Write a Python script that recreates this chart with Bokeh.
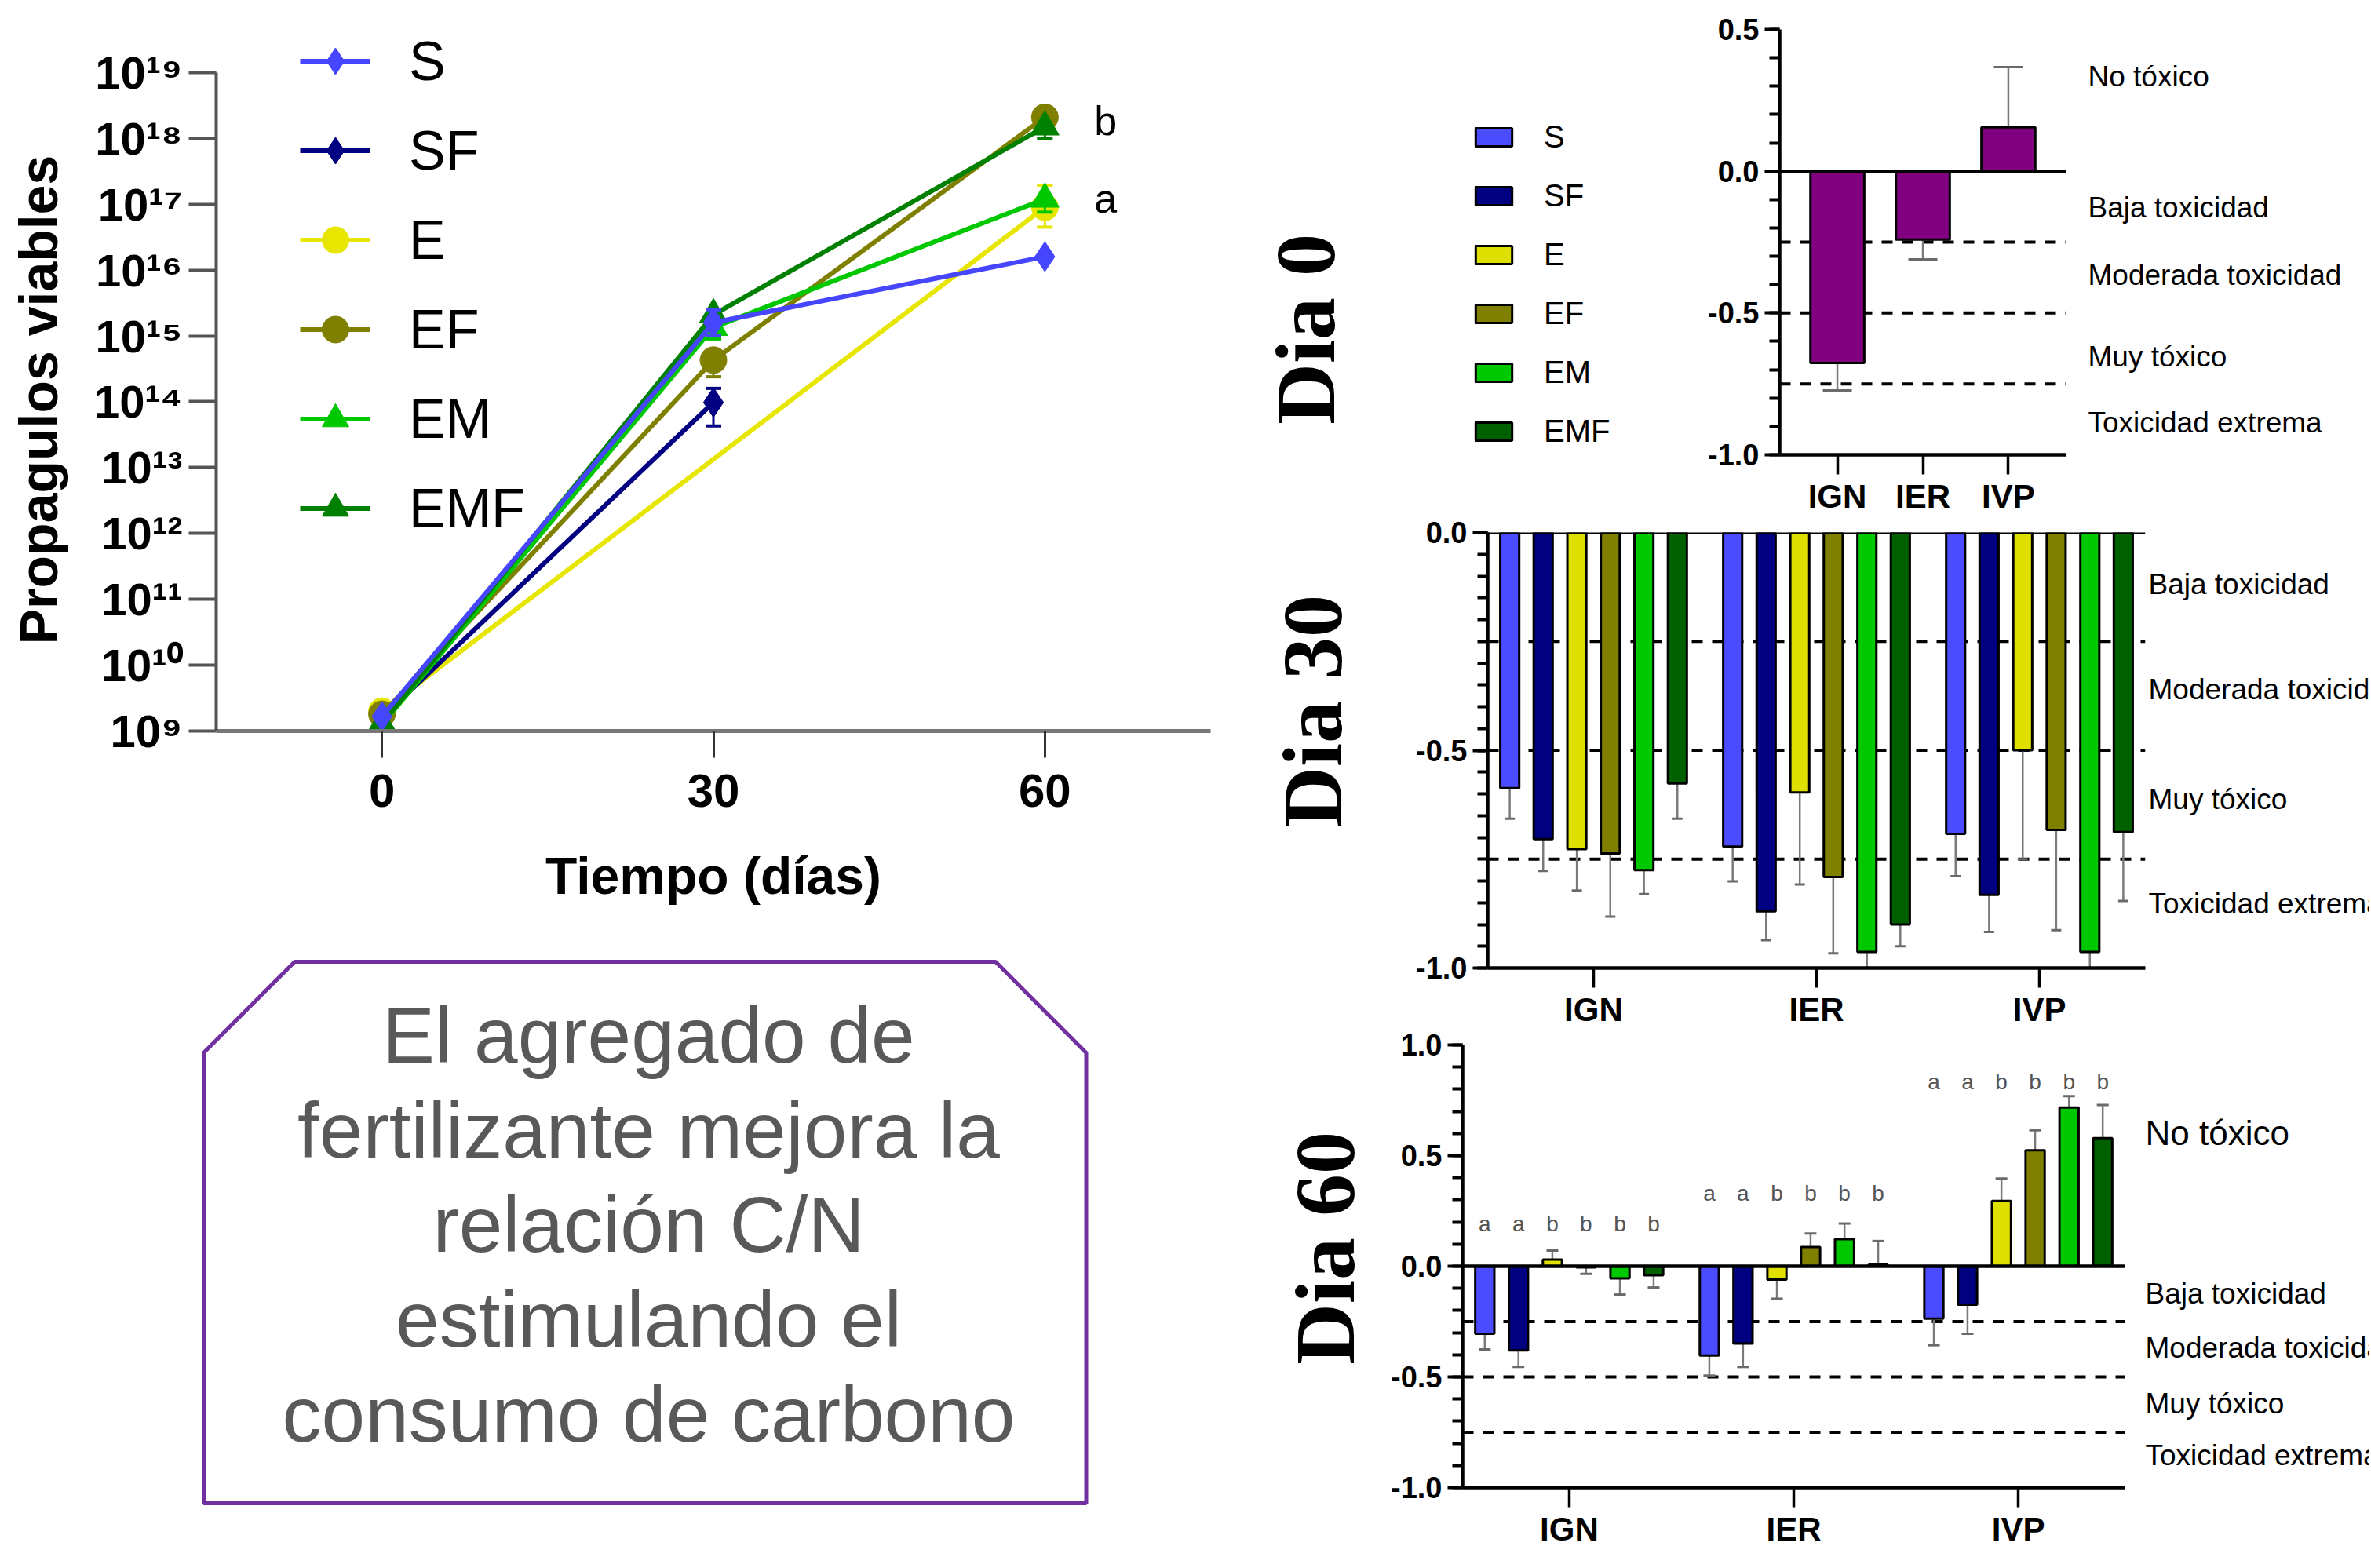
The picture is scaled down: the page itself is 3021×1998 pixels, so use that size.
import math
from bokeh.plotting import figure
from bokeh.models import (ColumnDataSource, Legend, LegendItem, Span, FixedTicker,
                          SingleIntervalTicker, NumeralTickFormatter, FactorRange, Range1d)
from bokeh.transform import dodge
from bokeh.layouts import row, column
from bokeh.embed import file_html
from bokeh.resources import INLINE
from bokeh.core.properties import value

SANS = "Liberation Sans"
SERIF = "Liberation Serif"

# ---------------- data: viable propagules ----------------
series = ["S", "SF", "E", "EF", "EM", "EMF"]
days_S = [0, 30, 60]
prop_S = [1.66e9, 1.6e15, 1.6e16]
lo_S = [1.66e9, 1.0e15, 1.6e16]
hi_S = [1.66e9, 2.5e15, 1.6e16]
days_SF = [0, 30]
prop_SF = [1.6e9, 9.8e13]
lo_SF = [1.6e9, 4.3e13]
hi_SF = [1.6e9, 1.6e14]
days_E = [0, 60]
prop_E = [2.0e9, 9.0e16]
lo_E = [2.0e9, 4.5e16]
hi_E = [2.0e9, 1.95e17]
days_EF = [0, 30, 60]
prop_EF = [1.8e9, 4.3e14, 2.1e18]
lo_EF = [1.8e9, 2.4e14, 2.1e18]
hi_EF = [1.8e9, 4.3e14, 2.1e18]
days_EM = [0, 30, 60]
prop_EM = [1.26e9, 1.35e15, 1.2e17]
lo_EM = [1.26e9, 9.0e14, 7.6e16]
hi_EM = [1.26e9, 1.35e15, 1.2e17]
days_EMF = [0, 30, 60]
prop_EMF = [1.3e9, 2.1e15, 1.5e18]
lo_EMF = [1.3e9, 2.1e15, 1.0e18]
hi_EMF = [1.3e9, 2.1e15, 1.5e18]
sig_text = ["b", "a"]
sig_day = [60, 60]
sig_level = [1.86e18, 1.23e17]
time_ticks = [0, 30, 60]
exp_ticks = list(range(9, 20))

# ---------------- data: toxicity indices ----------------
groups = ["IGN", "IER", "IVP"]
d0_val = [-0.676, -0.241, 0.155]
d0_sd = [0.097, 0.070, 0.212]

d30_S = [-0.587, -0.721, -0.692]
d30_SF = [-0.704, -0.870, -0.832]
d30_E = [-0.727, -0.597, -0.500]
d30_EF = [-0.737, -0.791, -0.683]
d30_EM = [-0.775, -0.963, -0.963]
d30_EMF = [-0.576, -0.900, -0.688]
d30_sd_S = [0.070, 0.080, 0.097]
d30_sd_SF = [0.073, 0.066, 0.085]
d30_sd_E = [0.095, 0.211, 0.250]
d30_sd_EF = [0.145, 0.175, 0.230]
d30_sd_EM = [0.055, 0.050, 0.050]
d30_sd_EMF = [0.081, 0.050, 0.158]

d60_S = [-0.305, -0.403, -0.237]
d60_SF = [-0.380, -0.349, -0.174]
d60_E = [0.030, -0.060, 0.295]
d60_EF = [-0.005, 0.087, 0.524]
d60_EM = [-0.055, 0.122, 0.717]
d60_EMF = [-0.041, 0.011, 0.579]
d60_sd_S = [0.071, 0.091, 0.120]
d60_sd_SF = [0.075, 0.106, 0.131]
d60_sd_E = [0.041, 0.087, 0.101]
d60_sd_EF = [0.030, 0.061, 0.090]
d60_sd_EM = [0.073, 0.071, 0.052]
d60_sd_EMF = [0.055, 0.103, 0.150]
d60_letters_IGN = ["a", "a", "b", "b", "b", "b"]
d60_letters_IER = ["a", "a", "b", "b", "b", "b"]
d60_letters_IVP = ["a", "a", "b", "b", "b", "b"]

box_lines = ["El agregado de", "fertilizante mejora la", "relación C/N",
             "estimulando el", "consumo de carbono"]
bands = ["No tóxico", "Baja toxicidad", "Moderada toxicidad", "Muy tóxico", "Toxicidad extrema"]

# ---------------- styles ----------------
line_colors = {"S": "#4646FF", "SF": "#000080", "E": "#E6E600", "EF": "#808000",
               "EM": "#00C800", "EMF": "#008000"}
bar_colors = {"S": "#4B4BFF", "SF": "#000080", "E": "#E0E000", "EF": "#808000",
              "EM": "#00C800", "EMF": "#006000"}
markers = {"S": "diamond", "SF": "diamond", "E": "circle", "EF": "circle",
           "EM": "triangle", "EMF": "triangle"}
msize = {"diamond": 38, "circle": 34, "triangle": 36}

prop = {
    "S": (days_S, prop_S, lo_S, hi_S), "SF": (days_SF, prop_SF, lo_SF, hi_SF),
    "E": (days_E, prop_E, lo_E, hi_E), "EF": (days_EF, prop_EF, lo_EF, hi_EF),
    "EM": (days_EM, prop_EM, lo_EM, hi_EM), "EMF": (days_EMF, prop_EMF, lo_EMF, hi_EMF),
}

COMMON = dict(output_backend="svg", toolbar_location=None, frame_align=False)


def clean(p):
    p.xgrid.visible = False
    p.ygrid.visible = False
    p.outline_line_color = None


def side_fig(w, h):
    p = figure(width=w, height=h, x_range=Range1d(0, w), y_range=Range1d(h, 0),
               x_axis_location=None, y_axis_location=None, min_border=0, **COMMON)
    clean(p)
    return p


# ======================= A: line chart =======================
sA = side_fig(100, 1180)
sA.text(x=[48], y=[509], text=["Propagulos viables"], angle=math.pi / 2, text_align="center",
        text_baseline="middle", text_font=value(SANS), text_font_style="bold",
        text_font_size="68px", text_color="black")

pA = figure(width=1468, height=1180, y_axis_type="log",
            x_range=Range1d(-15, 75), y_range=Range1d(1e9, 10 ** 19.882),
            min_border_left=175, min_border_right=26, min_border_top=18, min_border_bottom=249,
            **COMMON)
clean(pA)

ya = pA.yaxis[0]
ya.ticker = FixedTicker(ticks=[float(10 ** k) for k in exp_ticks])
ya.bounds = (1e9, 1e19)
sup = str.maketrans("0123456789", "⁰¹²³⁴⁵⁶⁷⁸⁹")
ya.major_label_overrides = {float(10 ** k): "10" + str(k).translate(sup) for k in exp_ticks}
ya.axis_line_width = 4
ya.axis_line_color = "#555555"
ya.major_tick_out = 35
ya.major_tick_in = 0
ya.major_tick_line_width = 4
ya.major_tick_line_color = "#555555"
ya.minor_tick_out = 0
ya.minor_tick_in = 0
ya.major_label_text_font = SANS
ya.major_label_text_font_style = "bold"
ya.major_label_text_font_size = "58px"
ya.major_label_text_color = "black"
ya.major_label_standoff = 8

xa = pA.xaxis[0]
xa.ticker = FixedTicker(ticks=time_ticks)
xa.axis_line_width = 5
xa.axis_line_color = "#777777"
xa.major_tick_out = 34
xa.major_tick_in = 0
xa.major_tick_line_width = 3
xa.major_tick_line_color = "#333333"
xa.minor_tick_out = 0
xa.major_label_text_font = SANS
xa.major_label_text_font_style = "bold"
xa.major_label_text_font_size = "60px"
xa.major_label_text_color = "black"
xa.major_label_standoff = 21
xa.axis_label = "Tiempo (días)"
xa.axis_label_text_font = SANS
xa.axis_label_text_font_style = "bold"
xa.axis_label_text_font_size = "66px"
xa.axis_label_text_color = "black"
xa.axis_label_standoff = 48

line_r, mark_r = {}, {}
for s in ["E", "SF", "EF", "EM", "EMF", "S"]:
    d, v, lo, hi = prop[s]
    c = line_colors[s]
    idx = [i for i in range(len(d)) if hi[i] > lo[i]]
    if idx:
        pA.segment(x0=[d[i] for i in idx], y0=[lo[i] for i in idx],
                   x1=[d[i] for i in idx], y1=[hi[i] for i in idx], line_color=c, line_width=3)
    cx = [d[i] for i in range(len(d)) if lo[i] < v[i]] + [d[i] for i in range(len(d)) if hi[i] > v[i]]
    cy = [lo[i] for i in range(len(d)) if lo[i] < v[i]] + [hi[i] for i in range(len(d)) if hi[i] > v[i]]
    if cx:
        pA.scatter(x=cx, y=cy, marker="dash", size=20, line_color=c, line_width=4)
    line_r[s] = pA.line(x=d, y=v, line_color=c, line_width=6)
    mk = markers[s]
    mark_r[s] = pA.scatter(x=d, y=v, marker=mk, size=msize[mk], fill_color=c, line_color=c)

pA.text(x=sig_day, y=sig_level, text=sig_text, x_offset=63, text_align="left",
        text_baseline="middle", text_font=value(SANS), text_font_size="52px", text_color="black")

legA = Legend(items=[LegendItem(label=s, renderers=[line_r[s], mark_r[s]]) for s in series],
              location=(107, 241), glyph_width=90, glyph_height=85, label_height=85,
              spacing=29, padding=10, margin=0, label_standoff=49,
              label_text_font=SANS, label_text_font_size="70px", label_text_color="black",
              border_line_color=None, background_fill_alpha=0)
pA.add_layout(legA)

# ======================= B: text box =======================
box_x = [259, 375, 1268, 1383.5, 1383.5, 259, 259]
box_y = [161, 45, 45, 161, 735, 735, 161]
pB = side_fig(1568, 810)
pB.patch(x=box_x, y=box_y, fill_color=None, line_color="#7030A0", line_width=5)
pB.text(x=[826] * 5, y=[138, 259, 379, 500, 621], text=box_lines, text_align="center",
        text_baseline="middle", text_font=value(SANS), text_font_size="100px",
        text_color="#595959")


# ======================= helpers for the toxicity panels =======================
def style_bar(p, minor):
    clean(p)
    ax = p.yaxis[0]
    ax.ticker = SingleIntervalTicker(interval=0.5, num_minor_ticks=minor)
    ax.formatter = NumeralTickFormatter(format="0.0")
    ax.axis_line_width = 4.5
    ax.axis_line_color = "black"
    ax.major_tick_out = 19
    ax.major_tick_in = 0
    ax.major_tick_line_width = 4
    ax.minor_tick_out = 13
    ax.minor_tick_in = 0
    ax.minor_tick_line_width = 4
    ax.major_label_text_font = SANS
    ax.major_label_text_font_style = "bold"
    ax.major_label_text_font_size = "38px"
    ax.major_label_text_color = "black"
    ax.major_label_standoff = 7
    bx = p.xaxis[0]
    bx.axis_line_width = 4.5
    bx.axis_line_color = "black"
    bx.major_tick_out = 25
    bx.major_tick_in = 0
    bx.major_tick_line_width = 3.5
    bx.major_label_text_font = SANS
    bx.major_label_text_font_style = "bold"
    bx.major_label_text_font_size = "42px"
    bx.major_label_text_color = "black"
    bx.major_label_standoff = 4
    for lv in (-0.25, -0.5, -0.75):
        p.add_layout(Span(location=lv, dimension="width", line_color="black", line_width=4,
                          line_dash="14 12", level="underlay"))


def title_text(p, text, x, y):
    p.text(x=[x], y=[y], text=[text], angle=math.pi / 2, text_align="center",
           text_baseline="middle", text_font=value(SERIF), text_font_style="bold",
           text_font_size="108px", text_color="black")


def band_fig(w, h, yr, top, bottom, xpos, ys, sizes):
    p = figure(width=w, height=h, x_range=Range1d(0, w), y_range=yr,
               x_axis_location=None, y_axis_location=None,
               min_border_left=0, min_border_right=0, min_border_top=top, min_border_bottom=bottom,
               **COMMON)
    clean(p)
    for t, y, fs in zip(bands, ys, sizes):
        if y is None:
            continue
        p.text(x=[xpos], y=[y], text=[t], text_align="left", text_baseline="middle",
               text_font=value(SANS), text_font_size=fs, text_color="black")
    return p


offsets = [-0.376, -0.226, -0.075, 0.075, 0.226, 0.376]


def grouped_bars(p, vals, sds, cap):
    for s, off in zip(series, offsets):
        v = vals[s]
        end = [a + (e if a >= 0 else -e) for a, e in zip(v, sds[s])]
        src = ColumnDataSource(dict(grp=groups, val=v, end=end))
        xx = dodge("grp", off, range=p.x_range)
        p.segment(x0=xx, y0="val", x1=xx, y1="end", source=src, line_color="#7a7a7a", line_width=2.5)
        p.scatter(x=xx, y="end", source=src, marker="dash", size=cap, line_color="#6a6a6a", line_width=3)
    for s, off in zip(series, offsets):
        src = ColumnDataSource(dict(grp=groups, val=vals[s]))
        p.vbar(x=dodge("grp", off, range=p.x_range), top="val", bottom=0, width=0.085, source=src,
               fill_color=bar_colors[s], line_color="black", line_width=3)


# ======================= C: Dia 0 =======================
yC = Range1d(-1.0, 0.5)
pC = figure(width=480, height=658,
            x_range=FactorRange(*groups, range_padding=0.175, range_padding_units="absolute"),
            y_range=yC, min_border_left=110, min_border_right=5, min_border_top=37,
            min_border_bottom=76, **COMMON)
style_bar(pC, 5)
end0 = [a + (e if a >= 0 else -e) for a, e in zip(d0_val, d0_sd)]
pC.segment(x0=groups, y0=d0_val, x1=groups, y1=end0, line_color="#7a7a7a", line_width=2.5)
pC.scatter(x=groups, y=end0, marker="dash", size=37, line_color="#6a6a6a", line_width=3)
pC.vbar(x=groups, top=d0_val, bottom=0, width=0.63, fill_color="#800080",
        line_color="black", line_width=3)
pC.add_layout(Span(location=0, dimension="width", line_color="black", line_width=4.5))

sC = side_fig(589, 658)
# hidden proxy renderers that only provide the legend swatches
proxy = {s: sC.vbar(x=[0.0], top=[0.0], bottom=[0.0], width=1, visible=False,
                    fill_color=bar_colors[s], line_color="black", line_width=3) for s in series}
legC = Legend(items=[LegendItem(label=s, renderers=[proxy[s]]) for s in series],
              location=(306, 86), glyph_width=58, glyph_height=29, label_height=45,
              spacing=30, padding=0, margin=0, label_standoff=35,
              label_text_font=SANS, label_text_font_size="40px", label_text_color="black",
              border_line_color=None, background_fill_alpha=0)
sC.add_layout(legC)
title_text(sC, "Dia 0", 95, 419)
rC = band_fig(382, 658, yC, 37, 76, 23, [0.335, -0.125, -0.362, -0.648, -0.879], ["37px"] * 5)

# ======================= D: Dia 30 =======================
yD = Range1d(-1.0, 0.0)
pD = figure(width=987, height=654,
            x_range=FactorRange(*groups, range_padding=-0.025, range_padding_units="absolute"),
            y_range=yD, min_border_left=147, min_border_right=2, min_border_top=20,
            min_border_bottom=75, **COMMON)
style_bar(pD, 10)
d30 = {"S": d30_S, "SF": d30_SF, "E": d30_E, "EF": d30_EF, "EM": d30_EM, "EMF": d30_EMF}
d30sd = {"S": d30_sd_S, "SF": d30_sd_SF, "E": d30_sd_E, "EF": d30_sd_EF, "EM": d30_sd_EM,
         "EMF": d30_sd_EMF}
grouped_bars(pD, d30, d30sd, 13)
pD.add_layout(Span(location=0, dimension="width", line_color="black", line_width=5))
sD = side_fig(180, 654)
title_text(sD, "Dia 30", 104, 248)
rD = band_fig(284, 654, yD, 20, 75, 2, [None, -0.118, -0.357, -0.609, -0.846], ["37px"] * 5)

# ======================= E: Dia 60 =======================
yE = Range1d(-1.0, 1.0)
pE = figure(width=961, height=678,
            x_range=FactorRange(*groups, range_padding=-0.025, range_padding_units="absolute"),
            y_range=yE, min_border_left=115, min_border_right=2, min_border_top=19,
            min_border_bottom=95, **COMMON)
style_bar(pE, 5)
d60 = {"S": d60_S, "SF": d60_SF, "E": d60_E, "EF": d60_EF, "EM": d60_EM, "EMF": d60_EMF}
d60sd = {"S": d60_sd_S, "SF": d60_sd_SF, "E": d60_sd_E, "EF": d60_sd_EF, "EM": d60_sd_EM,
         "EMF": d60_sd_EMF}
grouped_bars(pE, d60, d60sd, 15)
pE.add_layout(Span(location=0, dimension="width", line_color="black", line_width=4.5))
letters = {"IGN": d60_letters_IGN, "IER": d60_letters_IER, "IVP": d60_letters_IVP}
letter_y = {"IGN": 0.19, "IER": 0.33, "IVP": 0.835}
for i, (s, off) in enumerate(zip(series, offsets)):
    src = ColumnDataSource(dict(grp=groups, t=[letters[g][i] for g in groups],
                                y=[letter_y[g] for g in groups]))
    pE.text(x=dodge("grp", off, range=pE.x_range), y="y", text="t", source=src,
            text_align="center", text_baseline="middle", text_font=value(SANS),
            text_font_size="28px", text_color="#555555")
sE = side_fig(180, 678)
title_text(sE, "Dia 60", 120, 278)
rE = band_fig(310, 678, yE, 19, 95, 24, [0.603, -0.123, -0.368, -0.62, -0.854],
              ["44px"] + ["37px"] * 4)

layout = row(column(row(sA, pA), pB),
             column(row(sC, pC, rC), row(sD, pD, rD), row(sE, pE, rE)))
open("out.html", "w").write(file_html(layout, INLINE, title="Propagulos y toxicidad"))
